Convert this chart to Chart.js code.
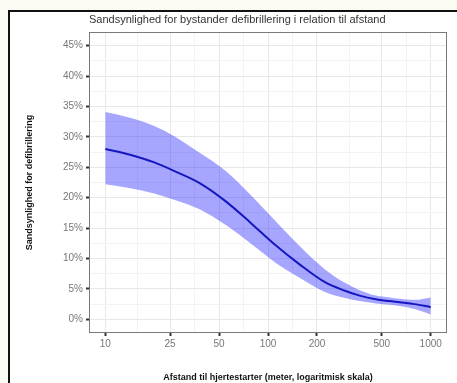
<!DOCTYPE html>
<html>
<head>
<meta charset="utf-8">
<script src="https://cdn.jsdelivr.net/npm/chart.js@4.4.1/dist/chart.umd.min.js"></script>
<style>
  body { margin: 0; background: #fbfbf3; width: 457px; height: 383px; overflow: hidden; position: relative; }
  #ramme { position: absolute; left: 8px; top: 10px; width: 460px; height: 380px;
           border-left: 2px solid #111; border-top: 2px solid #111; background: #fff; }
  #grafico { position: absolute; left: 0; top: 0; }
</style>
</head>
<body>
<div id="ramme"></div>
<canvas id="grafico" width="457" height="383"></canvas>
<script>
// afstand i meter og sandsynlighed i procent
const afstand   = [10, 14, 20, 27, 38, 55, 78, 110, 157, 224, 297, 366, 460, 558, 645, 795, 1000];
const sandsynl  = [28.0, 27.1, 25.8, 24.3, 22.4, 19.4, 15.9, 12.3, 9.0, 6.1, 4.7, 3.9, 3.3, 3.0, 2.8, 2.5, 2.0];
const ovre      = [34.1, 33.2, 31.8, 30.0, 27.4, 24.4, 20.5, 16.3, 12.0, 8.2, 6.0, 4.8, 3.9, 3.6, 3.4, 3.2, 3.6];
const nedre     = [22.2, 21.6, 20.7, 19.6, 18.1, 15.5, 12.5, 9.4, 6.8, 4.5, 3.5, 3.0, 2.6, 2.4, 2.2, 1.7, 0.8];

const xTicks = [10, 25, 50, 100, 200, 500, 1000];
const xMinor = [15.81, 35.36, 70.71, 141.42, 316.23, 707.11];
const yTicks = [0, 5, 10, 15, 20, 25, 30, 35, 40, 45];
const yMinor = [2.5, 7.5, 12.5, 17.5, 22.5, 27.5, 32.5, 37.5, 42.5];

const titel = 'Sandsynlighed for bystander defibrillering i relation til afstand';

Chart.defaults.font.family = 'Arial, "Liberation Sans", sans-serif';

function punkter(ys) {
    return afstand.map((x, i) => ({ x: x, y: ys[i] }));
}

// titel og panelramme
const tegnEkstra = {
    id: 'tegnEkstra',
    afterDatasetsDraw(chart) {
        const { ctx, chartArea } = chart;
        ctx.save();
        ctx.strokeStyle = '#7a7a7a';
        ctx.lineWidth = 1;
        ctx.strokeRect(chartArea.left + 0.5, chartArea.top + 0.5,
                       chartArea.right - chartArea.left - 1, chartArea.bottom - chartArea.top - 1);
        ctx.fillStyle = '#333';
        ctx.font = '11px Arial, "Liberation Sans", sans-serif';
        ctx.textBaseline = 'middle';
        ctx.textAlign = 'left';
        ctx.fillText(titel, chartArea.left, 20);
        ctx.restore();
    }
};

const data = {
    datasets: [{
        label: 'nedre',
        data: punkter(nedre),
        borderWidth: 0,
        pointRadius: 0,
        fill: false,
        cubicInterpolationMode: 'monotone'
    }, {
        label: 'øvre',
        data: punkter(ovre),
        borderWidth: 0,
        pointRadius: 0,
        backgroundColor: 'rgba(20, 20, 255, 0.38)',
        fill: '-1',
        cubicInterpolationMode: 'monotone'
    }, {
        label: 'Sandsynlighed',
        data: punkter(sandsynl),
        borderColor: '#18189a',
        borderWidth: 2,
        pointRadius: 0,
        fill: false,
        cubicInterpolationMode: 'monotone'
    }]
};

const config = {
    type: 'line',
    data: data,
    options: {
        responsive: false,
        animation: false,
        layout: { padding: { left: 10, right: 10, top: 32, bottom: 0 } },
        plugins: {
            legend: { display: false },
            tooltip: { enabled: false }
        },
        scales: {
            x: {
                type: 'logarithmic',
                min: 7.94,
                max: 1259,
                afterBuildTicks: s => { s.ticks = xTicks.concat(xMinor).sort((a, b) => a - b).map(v => ({ value: v })); },
                afterFit: s => { s.height = 50; },
                border: { display: false },
                grid: {
                    color: c => xTicks.includes(c.tick.value) ? '#e8e8e8' : '#f3f3f3',
                    tickColor: c => xTicks.includes(c.tick.value) ? '#333' : 'rgba(0,0,0,0)',
                    tickLength: 3,
                    tickWidth: 2
                },
                ticks: {
                    autoSkip: false,
                    maxRotation: 0,
                    padding: 2,
                    color: '#777',
                    font: { size: 10 },
                    callback: v => xTicks.includes(v) ? String(v) : ''
                },
                title: {
                    display: true,
                    text: 'Afstand til hjertestarter (meter, logaritmisk skala)',
                    color: '#111',
                    font: { size: 9, weight: 'bold' },
                    padding: { top: 0, bottom: 0 }
                }
            },
            y: {
                min: -2.25,
                max: 47.25,
                afterBuildTicks: s => { s.ticks = yTicks.concat(yMinor).sort((a, b) => a - b).map(v => ({ value: v })); },
                afterFit: s => { s.width = 79; },
                border: { display: false },
                grid: {
                    color: c => yTicks.includes(c.tick.value) ? '#e8e8e8' : '#f3f3f3',
                    tickColor: c => yTicks.includes(c.tick.value) ? '#333' : 'rgba(0,0,0,0)',
                    tickLength: 3,
                    tickWidth: 2
                },
                ticks: {
                    autoSkip: false,
                    padding: 3,
                    color: '#777',
                    font: { size: 10 },
                    callback: v => yTicks.includes(v) ? v + '%' : ''
                },
                title: {
                    display: true,
                    text: 'Sandsynlighed for defibrillering',
                    color: '#111',
                    font: { size: 9, weight: 'bold' },
                    padding: { top: 14, bottom: 0 }
                }
            }
        }
    },
    plugins: [tegnEkstra]
};

const ctx = document.getElementById('grafico').getContext('2d');
const minGraf = new Chart(ctx, config);
</script>
</body>
</html>
